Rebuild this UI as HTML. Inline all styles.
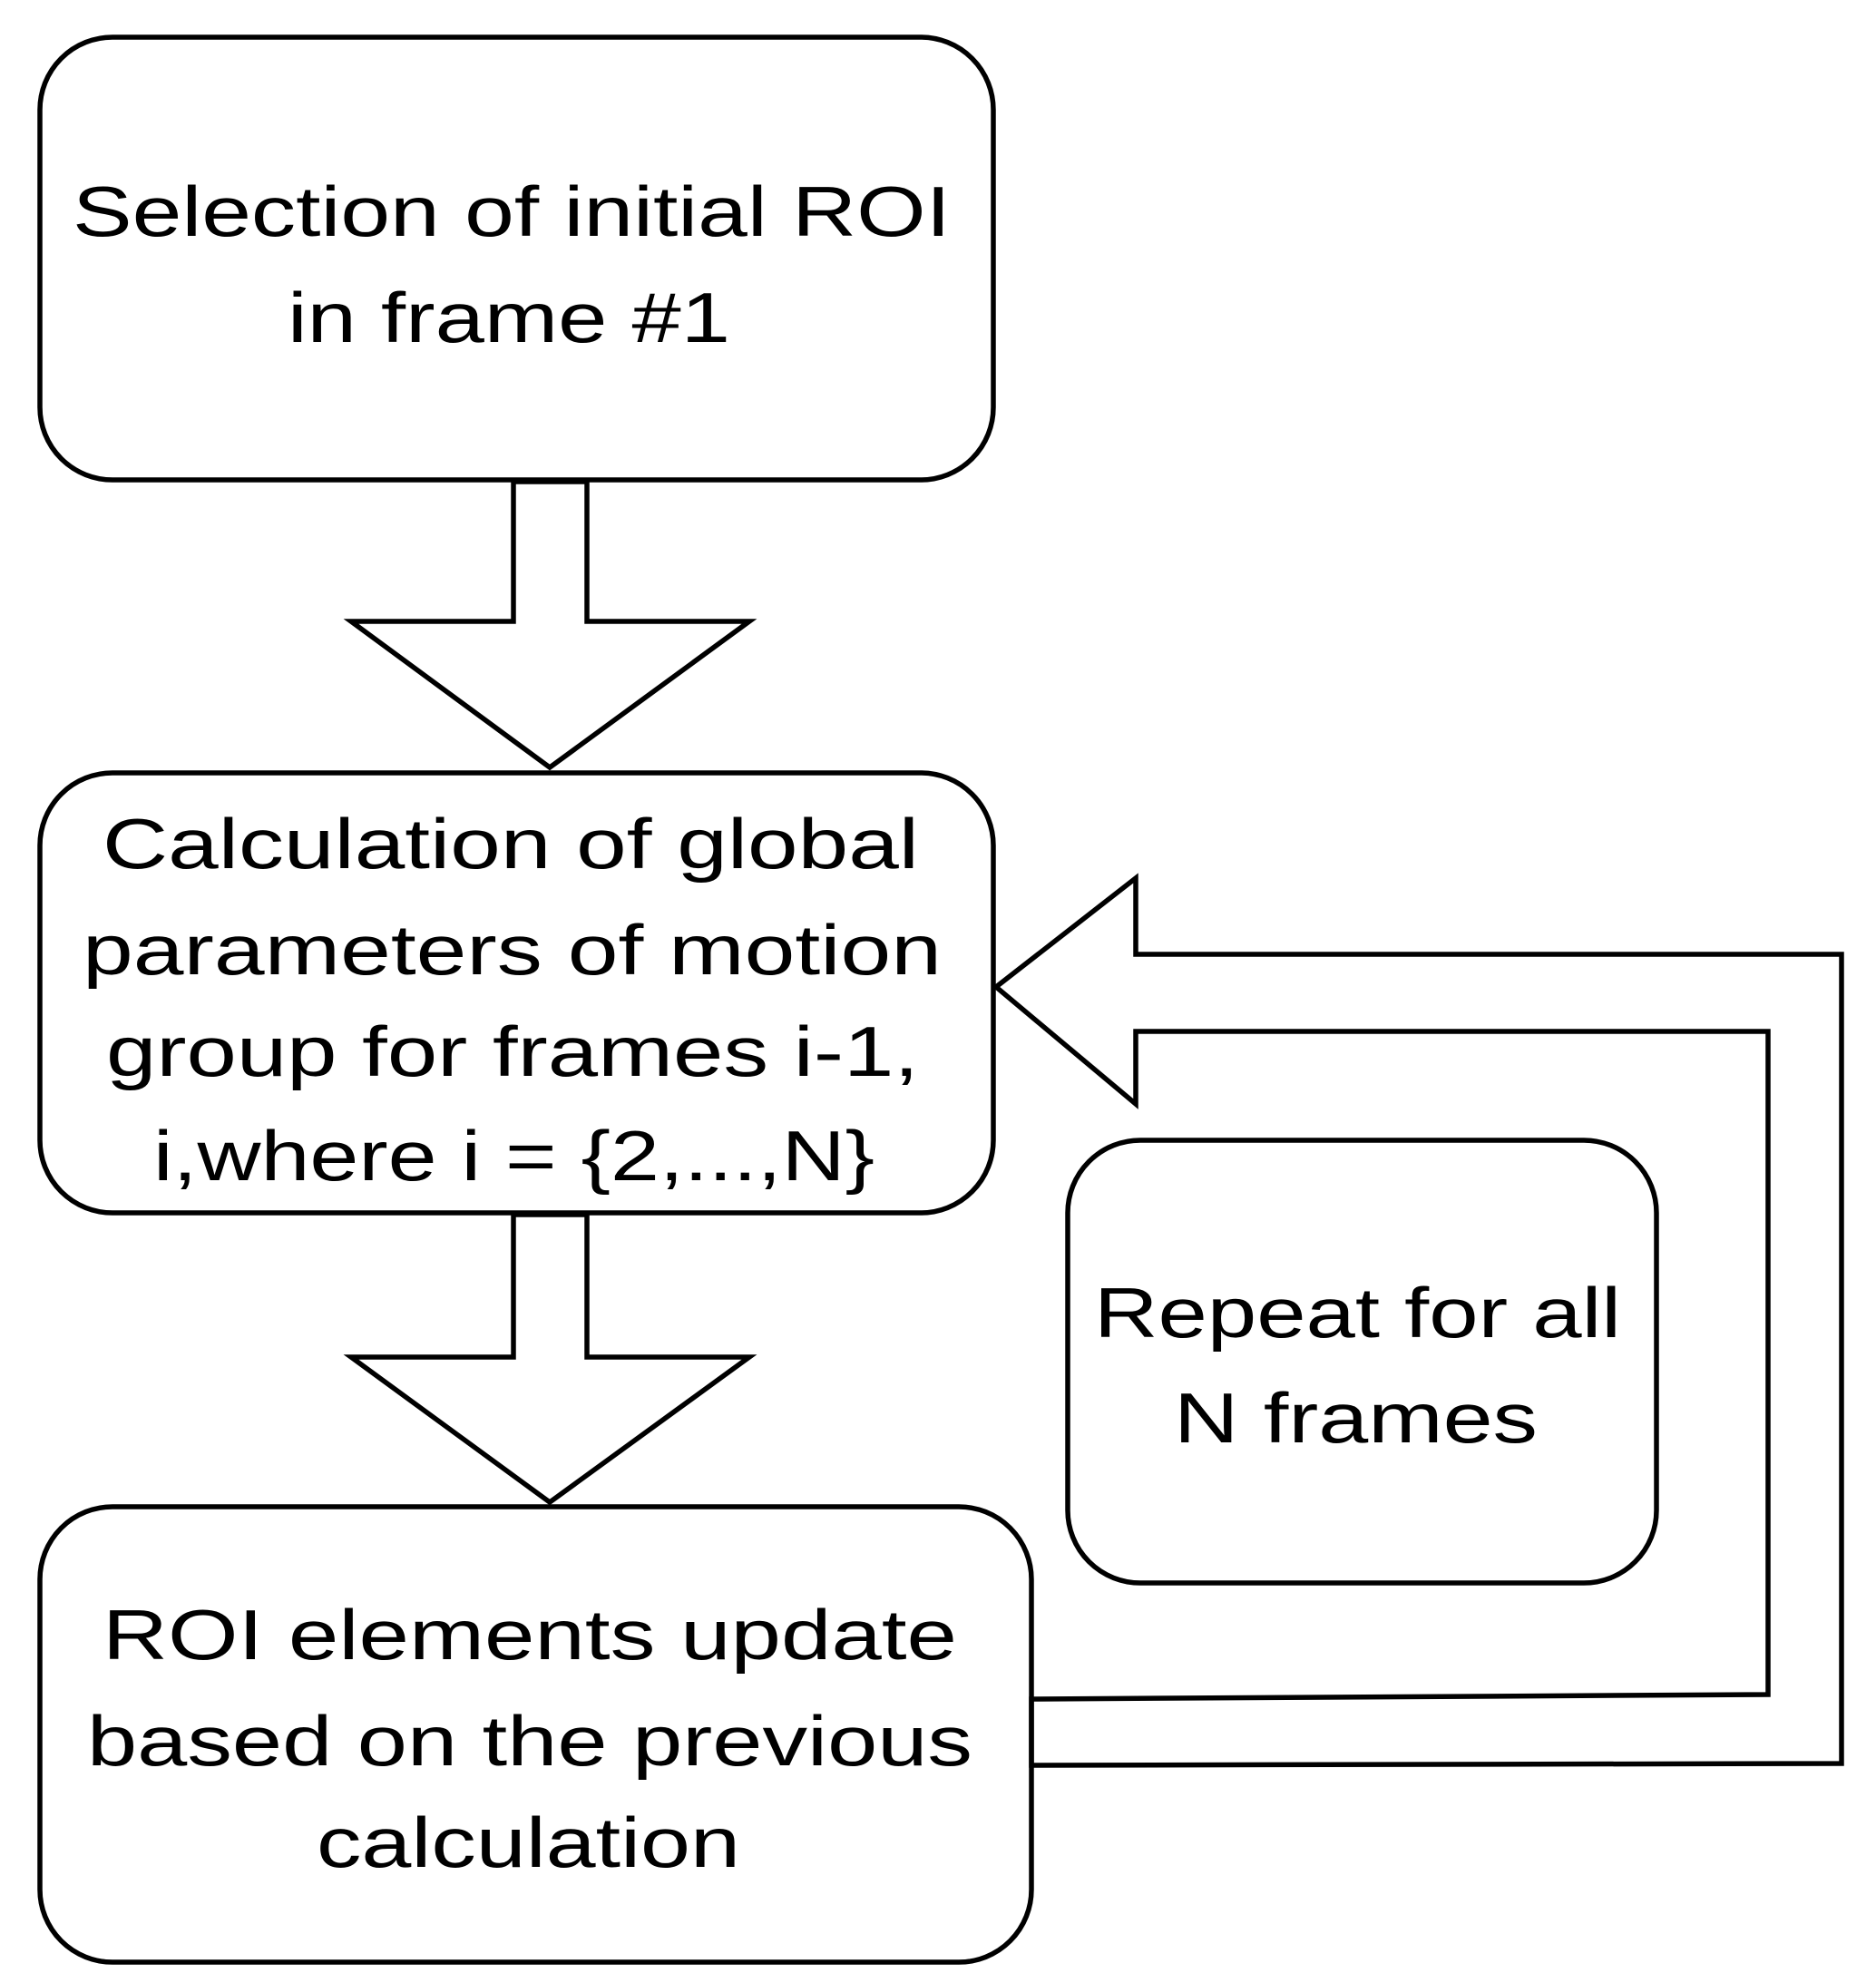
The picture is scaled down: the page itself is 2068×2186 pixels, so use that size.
<!DOCTYPE html>
<html><head><style>html,body{margin:0;padding:0;background:#fff}svg{display:block}</style></head><body>
<svg width="2068" height="2186" viewBox="0 0 2068 2186" xmlns="http://www.w3.org/2000/svg">
<g fill="#fff" stroke="#000" stroke-width="5.5" stroke-linejoin="miter">
<rect x="44" y="41" width="1051" height="488" rx="80"/>
<rect x="44" y="852" width="1051" height="485" rx="80"/>
<rect x="44" y="1661" width="1093" height="502" rx="80"/>
<rect x="1177" y="1257" width="649" height="488" rx="80"/>
<polygon points="566,531 647,531 647,685 826,685 606,846 387,685 566,685"/>
<polygon points="566,1339 647,1339 647,1496 826,1496 606,1656 387,1496 566,1496"/>
<polygon fill="none" points="1137,1946 2030,1944 2030,1052 1252,1052 1252,968 1098,1088 1252,1217 1252,1137 1949,1137 1949,1868 1137,1873"/>
</g>
<g font-family="Liberation Sans, Arial, sans-serif" font-size="78" fill="#000" lengthAdjust="spacingAndGlyphs">
<text x="80" y="260" textLength="968" lengthAdjust="spacingAndGlyphs">Selection of initial ROI</text>
<text x="317" y="377" textLength="488" lengthAdjust="spacingAndGlyphs">in frame #1</text>
<text x="113" y="957" textLength="900" lengthAdjust="spacingAndGlyphs">Calculation of global</text>
<text x="91" y="1074" textLength="947" lengthAdjust="spacingAndGlyphs">parameters of motion</text>
<text x="117" y="1186" textLength="896" lengthAdjust="spacingAndGlyphs">group for frames i-1,</text>
<text x="169" y="1301" textLength="795" lengthAdjust="spacingAndGlyphs">i,where i = {2,...,N}</text>
<text x="113" y="1829" textLength="942" lengthAdjust="spacingAndGlyphs">ROI elements update</text>
<text x="96" y="1946" textLength="976" lengthAdjust="spacingAndGlyphs">based on the previous</text>
<text x="349" y="2058" textLength="467" lengthAdjust="spacingAndGlyphs">calculation</text>
<text x="1206" y="1474" textLength="581" lengthAdjust="spacingAndGlyphs">Repeat for all</text>
<text x="1294" y="1590" textLength="401" lengthAdjust="spacingAndGlyphs">N frames</text>
</g>
</svg>
</body></html>
